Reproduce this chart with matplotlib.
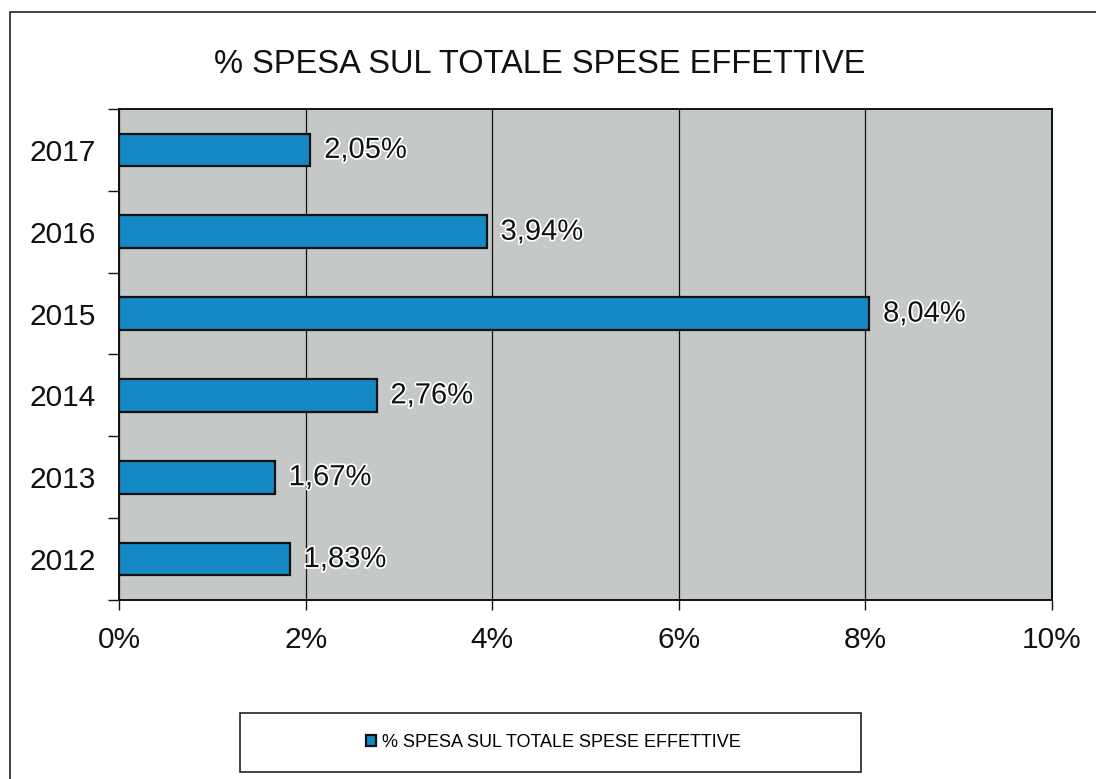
import numpy as np
import matplotlib.pyplot as plt
from matplotlib.patches import Rectangle
from matplotlib.ticker import FuncFormatter
import matplotlib.patheffects as pe

plt.rcParams['font.family'] = ['Liberation Sans', 'DejaVu Sans']

# Spending share per year (percent)
years = ['2012', '2013', '2014', '2015', '2016', '2017']
share = [1.83, 1.67, 2.76, 8.04, 3.94, 2.05]
title = '% SPESA SUL TOTALE SPESE EFFETTIVE'

bar_color = '#1588c6'
bg_color = '#c4c8c7'

fig = plt.figure(figsize=(10.96, 7.79), dpi=100)
ax = fig.add_axes([0.1086, 0.2298, 0.8513, 0.6303])
ax.set_facecolor(bg_color)

y = np.arange(len(years))
bars = ax.barh(y, share, height=0.4, color=bar_color, edgecolor='#111111',
               linewidth=1.6, label=title, zorder=3)

# value labels, Italian decimal comma
for yi, v in zip(y, share):
    ax.annotate(f'{v:.2f}%'.replace('.', ','), (v, yi), xytext=(10, 0),
                textcoords='offset points', va='center', ha='left',
                fontsize=21, color='#111111', zorder=4,
                path_effects=[pe.withStroke(linewidth=2.5, foreground='white')])

ax.set_xlim(0, 10)
ax.set_ylim(-0.5, len(years) - 0.5)
ax.set_xticks(np.arange(0, 11, 2))
ax.xaxis.set_major_formatter(FuncFormatter(lambda v, _: f'{v:.0f}%'))
ax.set_yticks(y)
ax.set_yticklabels(years)
ax.set_yticks(np.arange(-0.5, len(years), 1), minor=True)

ax.tick_params(axis='x', direction='out', length=7, width=1, pad=12,
               labelsize=21.5, colors='#111111')
ax.tick_params(axis='y', which='major', length=0, pad=17, labelsize=21.5,
               colors='#111111')
ax.tick_params(axis='y', which='minor', direction='out', length=8, width=1,
               color='#111111')

ax.xaxis.grid(True, color='#111111', linewidth=0.9, zorder=1)
ax.set_axisbelow(True)
for s in ax.spines.values():
    s.set_color('#111111')
    s.set_linewidth(1.4)

fig.text(0.4927, 0.9166, title, ha='center', va='center', fontsize=23.5,
         color='#111111')

# outer chart frame, runs off the right and bottom edges
fig.patches.append(Rectangle((10 / 1096, -0.05), 1.2, 1 - 12 / 779 + 0.05,
                             transform=fig.transFigure, fill=False,
                             edgecolor='#222222', linewidth=1.2))

# legend box
fig.patches.append(Rectangle((240 / 1096, 1 - 772 / 779), 621 / 1096, 59 / 779,
                             transform=fig.transFigure, fill=False,
                             edgecolor='#222222', linewidth=1.2))
fig.legend(handles=[bars], labels=[title], loc='center',
           bbox_to_anchor=(0.5046, 1 - 742.5 / 779), frameon=False,
           fontsize=13, handlelength=0.6, handleheight=0.6, handletextpad=0.3)

plt.savefig('out.png', dpi=100)
